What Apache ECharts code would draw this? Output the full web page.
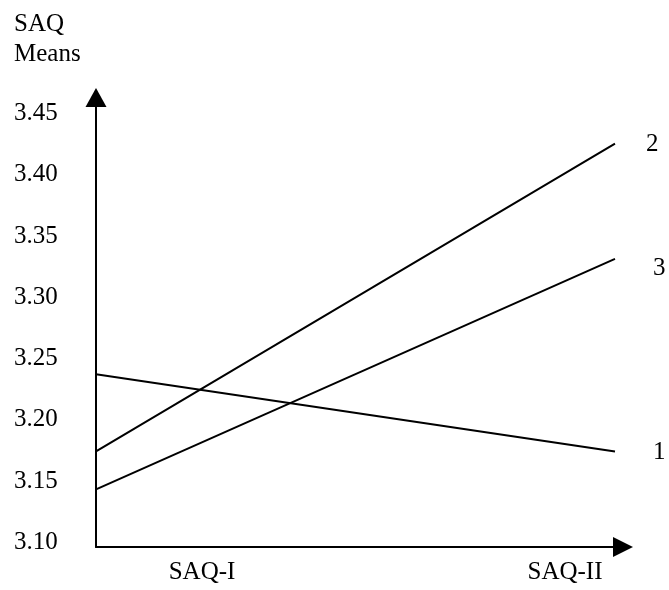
<!DOCTYPE html>
<html>
<head>
<meta charset="utf-8">
<script src="https://cdn.jsdelivr.net/npm/echarts@6/dist/echarts.min.js"></script>
<style>
html,body{margin:0;padding:0;background:#fff;}
#chart{width:669px;height:590px;}
</style>
</head>
<body>
<div id="chart"></div>
<script>
const categories = ['SAQ-I', 'SAQ-II'];
const group1 = [3.241, 3.178];
const group2 = [3.178, 3.429];
const group3 = [3.147, 3.335];
const yMin = 3.10;
const yMax = 3.465;
const yStep = 0.05;

const FONT = '"Liberation Serif", "Times New Roman", serif';
const chart = echarts.init(document.getElementById('chart'), null, {renderer: 'canvas'});

function lineSeries(name, data, dist, dy) {
  return {
    name: name,
    type: 'line',
    data: data,
    symbol: 'none',
    silent: true,
    lineStyle: {color: '#000', width: 2},
    itemStyle: {color: '#000'},
    endLabel: {
      show: true,
      formatter: '{a}',
      distance: dist,
      offset: [0, dy],
      color: '#000',
      fontFamily: FONT,
      fontSize: 25
    }
  };
}

chart.setOption({
  animation: false,
  backgroundColor: '#fff',
  title: {
    text: 'SAQ\nMeans',
    left: 14,
    top: 9,
    padding: 0,
    textStyle: {fontFamily: FONT, fontSize: 25, fontWeight: 'normal', color: '#000', lineHeight: 30}
  },
  grid: {left: 96, right: 54, top: 99.6, bottom: 43, containLabel: false},
  xAxis: {
    type: 'category',
    data: categories,
    boundaryGap: false,
    axisLine: {
      show: true,
      lineStyle: {color: '#000', width: 2},
      symbol: ['none', 'triangle'],
      symbolSize: [20, 20],
      symbolOffset: [0, 8]
    },
    axisTick: {show: false},
    splitLine: {show: false},
    axisLabel: {
      interval: 0,
      margin: 13,
      color: '#000',
      fontFamily: FONT,
      fontSize: 25,
      formatter: function (v, i) { return i === 0 ? '{a|' + v + '}' : '{b|' + v + '}'; },
      rich: {
        a: {fontFamily: FONT, fontSize: 25, color: '#000', padding: [0, 0, 0, 212]},
        b: {fontFamily: FONT, fontSize: 25, color: '#000', padding: [0, 100, 0, 0]}
      }
    }
  },
  yAxis: {
    type: 'value',
    min: yMin,
    max: yMax,
    interval: yStep,
    axisLine: {
      show: true,
      lineStyle: {color: '#000', width: 2},
      symbol: ['none', 'triangle'],
      symbolSize: [21, 19],
      symbolOffset: [0, 2]
    },
    axisTick: {show: false},
    splitLine: {show: false},
    axisLabel: {
      showMaxLabel: false,
      align: 'left',
      margin: 82,
      color: '#000',
      fontFamily: FONT,
      fontSize: 25,
      formatter: function (v) { return '{v|' + v.toFixed(2) + '}'; },
      rich: {
        v: {fontFamily: FONT, fontSize: 25, color: '#000', padding: [0, 0, 9, 0]}
      }
    }
  },
  series: [
    lineSeries('1', group1, 38, 1),
    lineSeries('2', group2, 31, 1),
    lineSeries('3', group3, 38, 9)
  ]
});
</script>
</body>
</html>
